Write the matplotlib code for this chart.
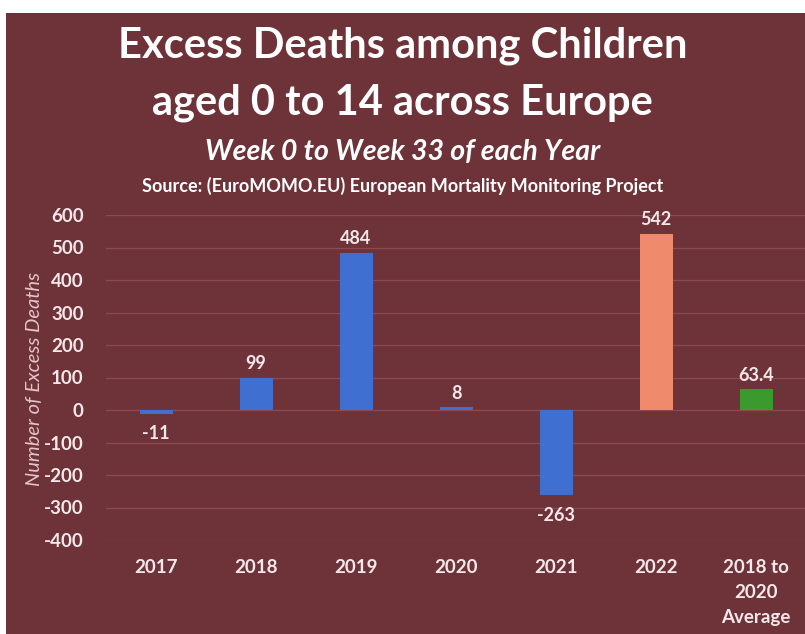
import matplotlib
matplotlib.use("Agg")
import matplotlib.pyplot as plt
from matplotlib.patches import Rectangle

categories = ["2017", "2018", "2019", "2020", "2021", "2022", "2018 to\n2020\nAverage"]
values = [-11, 99, 484, 8, -263, 542, 63.4]
labels = ["-11", "99", "484", "8", "-263", "542", "63.4"]
colors = ["#3f6fd0", "#3f6fd0", "#3f6fd0", "#3f6fd0", "#3f6fd0", "#f08a6c", "#3a9a2e"]
yticks = [600, 500, 400, 300, 200, 100, 0, -100, -200, -300, -400]

BG = "#6d3339"
FONT = "Lato"
TXT = "#f6e8ea"

W, H = 805, 634
fig = plt.figure(figsize=(W / 100, H / 100), dpi=100, facecolor="white")
fig.patches.append(Rectangle((6 / W, 0), 1 - 6 / W, 1 - 13 / H, transform=fig.transFigure,
                             facecolor=BG, edgecolor="none", zorder=-10))

ax = fig.add_axes([106 / W, 1 - 540 / H, 700 / W, 325 / H])
ax.set_facecolor(BG)
x = list(range(len(categories)))
ax.bar(x, values, width=0.33, color=colors, zorder=3)
ax.set_xlim(-0.5, len(categories) - 0.5)
ax.set_ylim(-400, 600)
ax.set_yticks(yticks)
ax.set_yticklabels([str(t) for t in yticks], fontfamily=FONT, fontweight="bold",
                   fontsize=13.5, color=TXT)
ax.set_xticks(x)
ax.set_xticklabels(categories, fontfamily=FONT, fontweight="bold", fontsize=13.5,
                   color=TXT, va="top", linespacing=1.55)
ax.tick_params(axis="both", length=0)
ax.tick_params(axis="x", pad=14)
ax.tick_params(axis="y", pad=16)
for s in ax.spines.values():
    s.set_visible(False)
ax.grid(axis="y", color="#8e4852", linewidth=0.9, zorder=0)
ax.set_axisbelow(True)

for xi, v, lab in zip(x, values, labels):
    if v >= 0:
        ax.annotate(lab, (xi, v), xytext=(0, 4), textcoords="offset points", ha="center",
                    va="bottom", fontfamily=FONT, fontweight="bold", fontsize=13, color=TXT)
    else:
        ax.annotate(lab, (xi, v), xytext=(0, -8), textcoords="offset points", ha="center",
                    va="top", fontfamily=FONT, fontweight="bold", fontsize=13, color=TXT)

ax.set_ylabel("Number of Excess Deaths", fontfamily=FONT, fontstyle="italic", fontsize=14.5,
              color="#e6c4c9")
ax.yaxis.set_label_coords(-0.09, 0.495)

fig.text(0.5, 1 - 46 / H, "Excess Deaths among Children", ha="center", va="center",
         fontfamily=FONT, fontweight="bold", fontsize=30, color="white")
fig.text(0.5, 1 - 103 / H, "aged 0 to 14 across Europe", ha="center", va="center",
         fontfamily=FONT, fontweight="bold", fontsize=30, color="white")
fig.text(0.5, 1 - 152 / H, "Week 0 to Week 33 of each Year", ha="center", va="center",
         fontfamily=FONT, fontweight="bold", fontstyle="italic", fontsize=20.5, color="white")
fig.text(0.5, 1 - 186 / H, "Source: (EuroMOMO.EU) European Mortality Monitoring Project",
         ha="center", va="center", fontfamily=FONT, fontweight="bold", fontsize=13, color="white")

fig.savefig("out.png", dpi=100, facecolor=fig.get_facecolor())
